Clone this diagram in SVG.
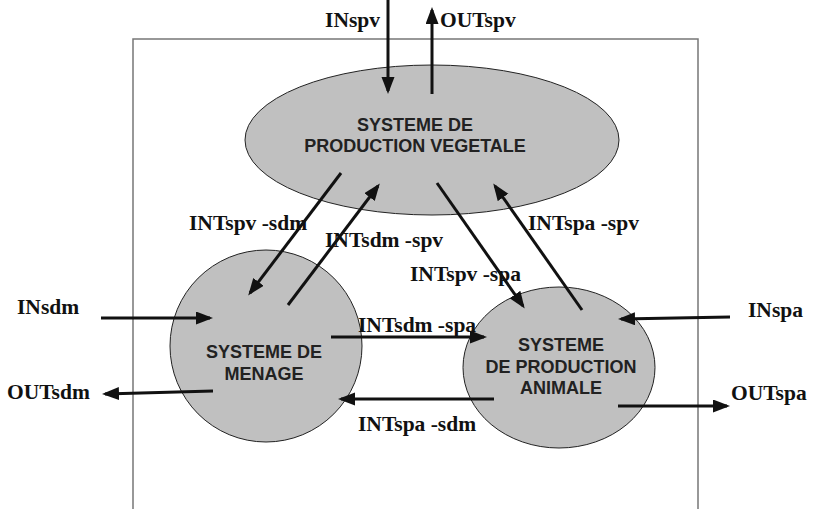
<svg xmlns="http://www.w3.org/2000/svg" width="814" height="509" viewBox="0 0 814 509">
  <style>
    .frame { fill: none; stroke: #777; stroke-width: 1.5; }
    .node { fill: #c0c0c0; stroke: #222; stroke-width: 1; }
    .ntxt { font-family: "Liberation Sans", Arial, sans-serif; font-weight: bold; font-size: 18px; fill: #222; text-anchor: middle; }
    .lbl { font-family: "Liberation Serif", "Times New Roman", serif; font-weight: bold; font-size: 21.5px; fill: #111; }
    .flow { stroke: #111; stroke-width: 3; fill: none; marker-end: url(#head); }
  </style>
  <defs>
    <marker id="head" markerUnits="userSpaceOnUse" markerWidth="18" markerHeight="14" refX="14" refY="6.5" orient="auto">
      <path d="M0,0 L17,6.5 L0,13 z" fill="#111"/>
    </marker>
  </defs>

  <!-- system boundary -->
  <path class="frame" d="M133,512 L133,39 L698,39 L698,512"/>

  <g id="spv">
    <ellipse class="node" cx="432" cy="140" rx="187" ry="75"/>
    <text class="ntxt" x="415" y="131">SYSTEME DE</text>
    <text class="ntxt" x="415" y="152">PRODUCTION VEGETALE</text>
  </g>

  <g id="sdm">
    <ellipse class="node" cx="266" cy="346" rx="96" ry="96"/>
    <text class="ntxt" x="264" y="358">SYSTEME DE</text>
    <text class="ntxt" x="264" y="380">MENAGE</text>
  </g>

  <g id="spa">
    <ellipse class="node" cx="559" cy="367.5" rx="96" ry="80.5"/>
    <text class="ntxt" x="561" y="351">SYSTEME</text>
    <text class="ntxt" x="561" y="373">DE PRODUCTION</text>
    <text class="ntxt" x="561" y="394">ANIMALE</text>
  </g>

  <g id="connectors">
    <text class="lbl" x="380" y="27" text-anchor="end">INspv</text>
    <text class="lbl" x="440" y="27">OUTspv</text>
    <text class="lbl" x="189" y="230">INTspv -sdm</text>
    <text class="lbl" x="325" y="247">INTsdm -spv</text>
    <text class="lbl" x="410" y="281">INTspv -spa</text>
    <text class="lbl" x="528" y="230">INTspa -spv</text>
    <text class="lbl" x="358" y="332">INTsdm -spa</text>
    <text class="lbl" x="358" y="431">INTspa -sdm</text>
    <text class="lbl" x="17" y="314">INsdm</text>
    <text class="lbl" x="7" y="399">OUTsdm</text>
    <text class="lbl" x="748" y="317">INspa</text>
    <text class="lbl" x="731" y="400">OUTspa</text>

    <line class="flow" x1="388" y1="0" x2="388" y2="91"/>
    <line class="flow" x1="432" y1="94" x2="432" y2="10"/>
    <line class="flow" x1="341" y1="173" x2="250" y2="293"/>
    <line class="flow" x1="288" y1="305" x2="378" y2="186"/>
    <line class="flow" x1="437" y1="183" x2="523" y2="306"/>
    <line class="flow" x1="582" y1="310" x2="495" y2="186"/>
    <line class="flow" x1="101" y1="318" x2="210" y2="318"/>
    <line class="flow" x1="213" y1="391" x2="105" y2="394"/>
    <line class="flow" x1="331" y1="337" x2="484" y2="337"/>
    <line class="flow" x1="494" y1="399" x2="341" y2="399"/>
    <line class="flow" x1="730" y1="317" x2="621" y2="319"/>
    <line class="flow" x1="618" y1="406" x2="727" y2="406"/>
  </g>
</svg>
